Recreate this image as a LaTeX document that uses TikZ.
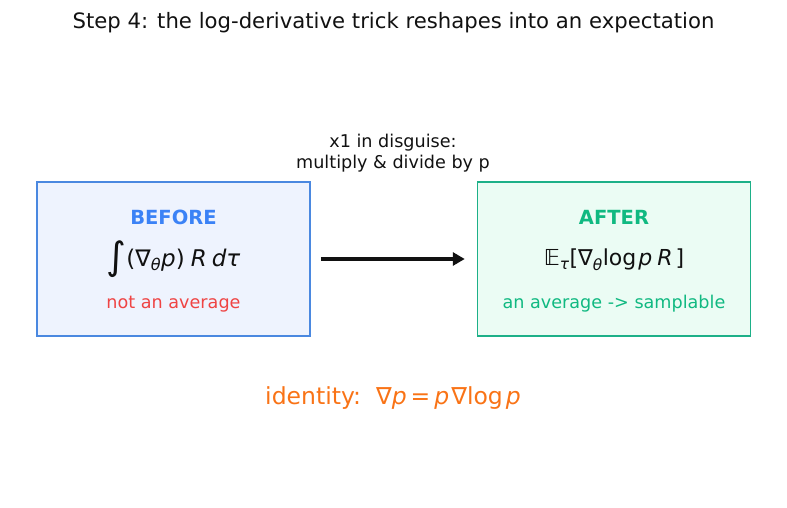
\documentclass[tikz,border=0pt]{standalone}
\usepackage{fontspec}
\setmainfont{DejaVu Sans}
\usepackage{tikz}
\usetikzlibrary{arrows.meta}

\definecolor{beforeblue}{HTML}{3B82F6}
\definecolor{beforeedge}{HTML}{4A88E0}
\definecolor{beforefill}{HTML}{EEF3FE}
\definecolor{aftergreen}{HTML}{10B981}
\definecolor{afteredge}{HTML}{1DB088}
\definecolor{afterfill}{HTML}{EBFCF4}
\definecolor{avgred}{HTML}{EF4444}
\definecolor{idorange}{HTML}{F97316}
\definecolor{ink}{HTML}{111111}

\begin{document}
\begin{tikzpicture}[
        x=1pt, y=-1pt,
        title/.style={font=\fontsize{21.2}{24}\selectfont, text=ink},
        panel/.style={rectangle, line width=1.5pt, minimum width=273pt, minimum height=154pt},
        tag/.style={font=\fontsize{19.5}{22}\selectfont\bfseries},
        formula/.style={font=\fontsize{22}{26}\selectfont, text=ink},
        note/.style={font=\fontsize{17.6}{20.5}\selectfont},
        flow/.style={line width=4pt, draw=ink, -{Triangle[length=12pt, width=13pt]}, shorten <=10pt, shorten >=12pt}
    ]
    \useasboundingbox (0,0) rectangle (787,508);

    % Title
    \node[title] (title) at (393.5,23) {Step 4: the log-derivative trick reshapes into an expectation};

    % Panels
    \node[panel, draw=beforeedge, fill=beforefill] (before) at (173.5,259) {};
    \node[panel, draw=afteredge, fill=afterfill] (after) at (614,259) {};

    % Before
    \node[tag, text=beforeblue] (beforetag) at (173.5,217) {BEFORE};
    \node[formula, font=\fontsize{23}{26}\selectfont] (beforeeq) at (173.5,259) {{\fontsize{38}{38}\selectfont\raisebox{-3pt}{∫}}(∇\textsubscript{\textit{θ}}\textit{p})\kern6pt\textit{R}\kern5pt\textit{dτ}};
    \node[note, text=avgred] (beforenote) at (173.5,304) {not an average};

    % After
    \node[tag, text=aftergreen] (aftertag) at (614,217) {AFTER};
    \node[formula] (aftereq) at (614,260) {𝔼\textsubscript{\textit{τ}}[∇\textsubscript{\textit{θ}}log\kern2pt\textit{p}\kern5pt\textit{R}\kern3pt]};
    \node[note, text=aftergreen] (afternote) at (614,304) {an average -> samplable};

    % Step between them
    \draw[flow] (before) -- (after);
    \node[note, text=ink, align=center] (hint) at (393,153) {x1 in disguise:\\multiply \& divide by p};

    % Identity
    \node[formula, font=\fontsize{23.5}{27}\selectfont, text=idorange] (identity) at (393,398) {identity:\ \ ∇\textit{p}\kern4pt=\kern4pt\textit{p}\kern2pt∇log\kern3pt\textit{p}};

\end{tikzpicture}
\end{document}
